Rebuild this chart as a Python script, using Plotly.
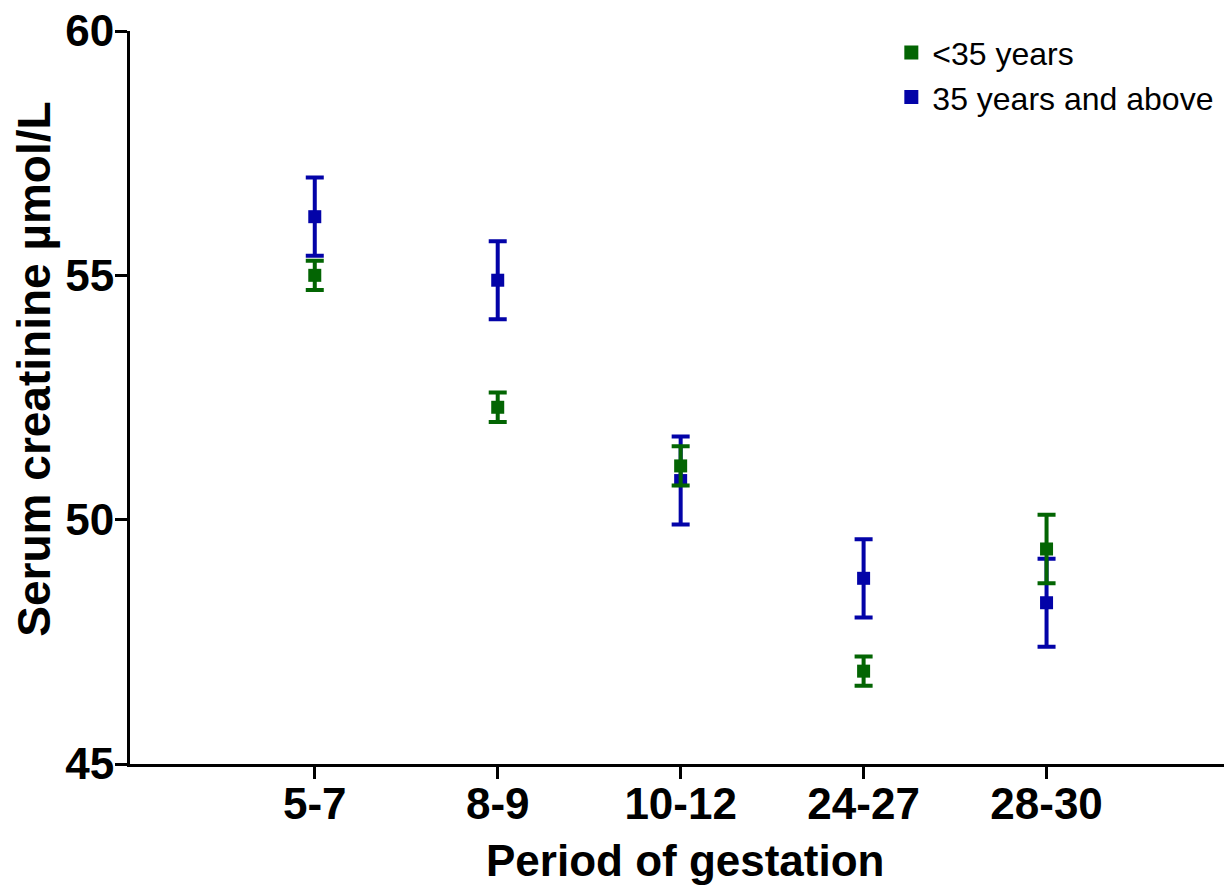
import plotly.graph_objects as go

categories = ["5-7", "8-9", "10-12", "24-27", "28-30"]
under35_mean = [55.0, 52.3, 51.1, 46.9, 49.4]
under35_err = [0.3, 0.3, 0.4, 0.3, 0.7]
over35_mean = [56.2, 54.9, 50.8, 48.8, 48.3]
over35_err = [0.8, 0.8, 0.9, 0.8, 0.9]
series_names = ["<35 years", "35 years and above"]
y_ticks = [45, 50, 55, 60]
x_title = "Period of gestation"
y_title = "Serum creatinine µmol/L"

GREEN = "#036503"
BLUE = "#0303a8"
FONT = "Liberation Sans, Arial, sans-serif"

fig = go.Figure()
fig.add_trace(go.Scatter(
    x=categories, y=over35_mean, mode="markers", name=series_names[1],
    marker=dict(symbol="square", size=13, color=BLUE),
    error_y=dict(type="data", array=over35_err, visible=True, color=BLUE, thickness=4, width=9),
    showlegend=False,
))
fig.add_trace(go.Scatter(
    x=categories, y=under35_mean, mode="markers", name=series_names[0],
    marker=dict(symbol="square", size=13, color=GREEN),
    error_y=dict(type="data", array=under35_err, visible=True, color=GREEN, thickness=4, width=9),
    showlegend=False,
))
# legend entries (order: <35 first)
fig.add_trace(go.Scatter(x=[None], y=[None], mode="markers", name=series_names[0],
                         marker=dict(symbol="square", size=14, color=GREEN)))
fig.add_trace(go.Scatter(x=[None], y=[None], mode="markers", name=series_names[1],
                         marker=dict(symbol="square", size=14, color=BLUE)))

fig.update_layout(
    width=1224, height=886,
    margin=dict(l=130, r=0, t=31, b=122, autoexpand=False),
    plot_bgcolor="white", paper_bgcolor="white",
    font=dict(family=FONT, color="black"),
    legend=dict(x=0.695, y=1.008, xanchor="left", yanchor="top",
                font=dict(size=32, family=FONT, color="black"),
                bgcolor="rgba(0,0,0,0)", tracegroupgap=0, itemwidth=32),
    xaxis=dict(
        type="category", categoryorder="array", categoryarray=categories,
        range=[-1.01, 4.97], automargin=False,
        showline=True, linecolor="black", linewidth=3,
        ticks="outside", ticklen=12, tickwidth=3, tickcolor="black",
        tickfont=dict(size=44, family=FONT, color="black", weight="bold"),
        ticklabelstandoff=-13, ticklabeloverflow="allow",
        showgrid=False, zeroline=False,
    ),
    yaxis=dict(
        range=[45, 60], tickvals=y_ticks, automargin=False,
        showline=True, linecolor="black", linewidth=3,
        ticks="outside", ticklen=12, tickwidth=3, tickcolor="black",
        tickfont=dict(size=44, family=FONT, color="black", weight="bold"),
        ticklabelstandoff=-8, ticklabeloverflow="allow",
        showgrid=False, zeroline=False,
    ),
    annotations=[
        dict(text="<b>" + x_title + "</b>", xref="paper", yref="paper",
             x=0.507, y=-0.132, xanchor="center", yanchor="middle", showarrow=False,
             font=dict(size=44, family=FONT, color="black")),
        dict(text="<b>" + y_title + "</b>", xref="paper", yref="paper",
             x=-0.088, y=0.539, xanchor="center", yanchor="middle", showarrow=False,
             textangle=-90, font=dict(size=46, family=FONT, color="black")),
    ],
)

fig.write_html(
    "out.html",
    config={"displayModeBar": False},
    post_script="document.body.style.margin='0';document.body.style.overflow='hidden';",
)
